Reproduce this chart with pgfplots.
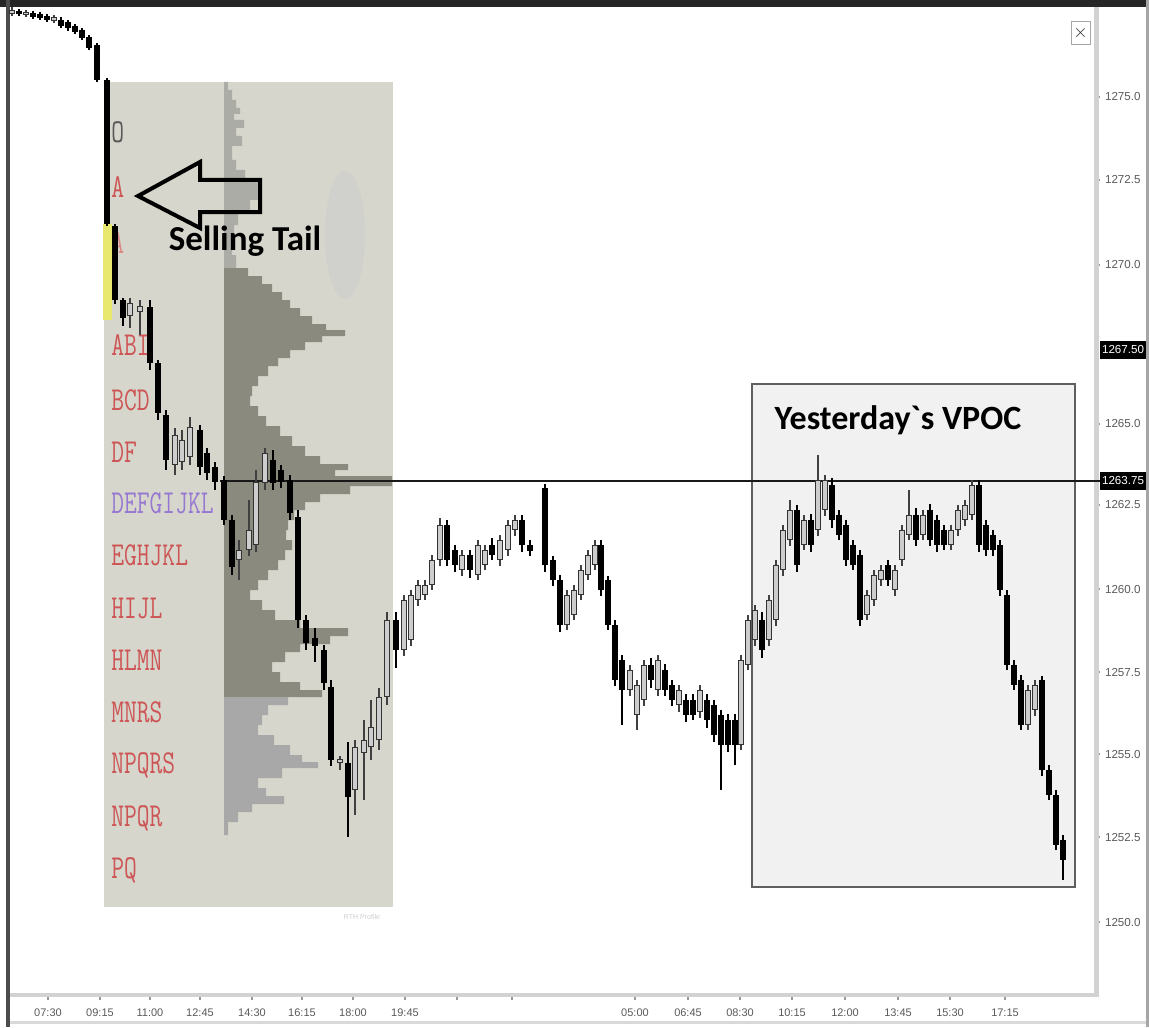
\documentclass[border=0pt]{standalone}
\usepackage{pgfplots}
\pgfplotsset{compat=1.18}
\usepackage{pgfplotstable}
\usepackage{fontspec}
\setmainfont{Liberation Sans}
\newfontfamily\carlito{Carlito}
\definecolor{profbg}{RGB}{214,214,204}
\definecolor{profup}{RGB}{172,172,166}
\definecolor{profdark}{RGB}{138,138,126}
\definecolor{proflow}{RGB}{168,168,168}
\definecolor{tailyellow}{RGB}{232,232,110}
\definecolor{tpored}{RGB}{205,85,85}
\definecolor{tpopurple}{RGB}{150,120,210}
\definecolor{boxfill}{RGB}{241,241,241}
\definecolor{boxline}{RGB}{95,95,95}
\definecolor{candlewhite}{RGB}{205,205,205}
\definecolor{blob}{RGB}{206,206,206}

% candles in chart units (x: time position, y: price position, top = smaller)
\pgfplotstableread{
x h t b l
19 9 11 14 16
33 11 13 17 19
40 12 14 18 20
47 14 16 20 22
61 17 20 26 28
68 20 22 28 31
75 24 26 32 34
82 28 30 38 40
89 35 37 48 50
97 43 45 80 82
107 78 80 224 226
115 224 226 300 304
123 298 300 318 326
150 300 307 363 370
158 360 363 413 420
166 410 415 460 470
200 425 430 467 475
207 448 453 473 480
215 462 467 482 490
224 476 480 520 525
232 515 520 567 575
273 450 460 483 490
281 465 470 482 488
290 475 480 513 520
298 510 517 620 628
306 615 620 643 650
315 628 638 646 662
324 645 650 683 690
331 680 687 760 766
348 742 763 797 837
396 612 620 650 668
447 520 525 560 566
455 545 550 565 572
470 550 555 570 578
492 538 545 555 560
522 515 520 545 552
530 540 545 551 556
545 484 488 565 572
553 556 560 580 586
560 575 580 625 632
601 540 545 590 596
608 576 580 625 630
615 620 625 680 686
622 655 660 690 725
651 658 665 680 688
665 664 670 690 696
672 680 685 700 706
686 694 700 715 722
693 694 700 715 720
707 694 700 720 728
714 700 705 735 742
721 710 715 745 790
728 714 720 745 752
735 714 720 745 765
762 612 620 650 658
797 505 510 565 572
811 514 520 545 552
832 478 485 520 528
839 510 515 535 540
846 520 525 560 566
853 540 545 565 570
860 550 555 620 626
888 560 565 580 586
916 508 515 540 546
930 504 510 540 546
937 515 520 545 552
944 525 530 545 550
979 480 485 545 552
986 520 525 550 556
993 530 535 550 556
1000 540 545 590 596
1007 590 595 665 670
1014 660 665 685 690
1021 675 680 725 730
1042 676 680 770 776
1049 765 770 795 800
1056 790 795 845 850
1063 835 840 860 880
}\blackcandles

\pgfplotstableread{
x h t b l
12 7 10 14 16
26 10 12 15 17
54 15 17 21 23
130 298 303 316 328
140 300 306 312 335
175 428 435 465 475
182 430 440 462 470
190 417 427 457 465
239 540 550 560 580
249 500 530 550 556
256 470 482 545 552
265 448 453 483 490
340 756 759 763 770
355 740 747 790 815
364 720 740 753 800
371 700 727 747 760
379 688 697 740 750
387 612 620 697 705
404 595 600 650 656
411 590 595 640 646
418 580 585 600 606
425 580 585 595 600
432 555 560 585 590
440 518 525 560 566
462 550 555 570 576
478 540 545 575 580
485 545 550 565 570
500 535 540 560 566
508 520 525 550 556
515 515 520 530 536
567 590 595 625 630
574 585 590 615 620
581 565 570 595 600
588 550 555 575 580
595 540 545 565 570
630 665 670 690 696
637 680 685 715 730
644 660 665 700 706
658 655 660 690 696
679 685 690 705 712
700 685 690 712 718
741 655 660 745 750
748 615 620 665 670
755 605 610 640 646
769 595 600 640 646
776 560 565 620 626
783 525 530 570 576
790 500 510 540 546
804 515 520 545 550
818 455 480 530 536
825 475 480 510 516
867 590 595 615 620
874 570 575 600 606
881 565 570 580 586
895 565 570 590 596
902 525 530 560 566
909 490 515 535 540
923 510 515 535 540
951 525 530 545 550
958 505 510 530 536
965 500 505 520 526
972 480 485 515 520
1028 685 690 725 730
1035 680 685 710 716
}\whitecandles

\pgfplotsset{
  candle/.style 2 args={draw=none, mark=none, forget plot,
    error bars/.cd, y dir=plus, y explicit,
    error mark options={mark size=0pt, opacity=0},
    error bar style={draw=#2, line width=#1}},
}

\begin{document}
\begin{tikzpicture}
\begin{axis}[
  x=0.5pt, y=0.5pt, y dir=reverse,
  xmin=10, xmax=1095, ymin=8, ymax=995,
  clip=false,
  axis line style={draw=none},
  xtick={48,100,150,200,252,302,353,405,457,512,635,688,740,792,845,898,950,1005},
  xticklabels={07:30,09:15,11:00,12:45,14:30,16:15,18:00,19:45,,,05:00,06:45,08:30,10:15,12:00,13:45,15:30,17:15},
  ytick={97,180,265,424,505,589,672,754,837,922},
  yticklabels={1275.0,1272.5,1270.0,1265.0,1262.5,1260.0,1257.5,1255.0,1252.5,1250.0},
  xtick pos=left, ytick pos=right, yticklabel pos=right,
  tick align=outside,
  major tick length=2.5pt,
  tick style={gray!80, line width=0.6pt},
  xticklabel style={font=\fontsize{5.5}{6}\selectfont, text=black!65, yshift=-1pt},
  yticklabel style={font=\fontsize{5.8}{6}\selectfont, text=black!65, xshift=-1pt},
]
% frame decorations
\fill[black!85] (axis cs:0,0) rectangle (axis cs:1149,7);
\fill[black!70] (axis cs:6,0) rectangle (axis cs:10,1027);
\fill[gray!35] (axis cs:1094,7) rectangle (axis cs:1099,997);
\fill[gray!35] (axis cs:10,993) rectangle (axis cs:1099,997);
\fill[gray!30] (axis cs:10,1021) rectangle (axis cs:1149,1024);
\fill[gray!70] (axis cs:1146,0) rectangle (axis cs:1149,1027);
\draw[gray!70, fill=white, line width=0.5pt] (axis cs:1071,22) rectangle (axis cs:1090,45);
\node[font=\fontsize{9}{9}\selectfont, text=black!80] at (axis cs:1080.5,33.5) {$\times$};

% market profile background
\fill[profbg] (axis cs:104,82) rectangle (axis cs:393,907);
\fill[blob, opacity=0.7] (axis cs:345,235) ellipse (10pt and 32pt);

% volume profile
\addplot[fill=profup, draw=none, forget plot] coordinates {
(224,82) (228,82) (228,90) (232,90) (232,100) (236,100) (236,108) (240,108) (240,114) (234,114) (234,120) (244,120) (244,128) (236,128) (236,136) (242,136) (242,146) (232,146) (232,160) (236,160) (236,170) (245,170) (245,180) (258,180) (258,200) (250,200) (250,212) (238,212) (238,225) (234,225) (234,240) (232,240) (232,255) (236,255) (236,268) (224,268)};
\addplot[fill=profdark, draw=none, forget plot] coordinates {
(224,268) (248,268) (248,276) (262,276) (262,284) (272,284) (272,292) (282,292) (282,300) (290,300) (290,308) (300,308) (300,316) (312,316) (312,324) (326,324) (326,330) (345,330) (345,336) (322,336) (322,342) (305,342) (305,350) (290,350) (290,358) (278,358) (278,366) (268,366) (268,376) (258,376) (258,386) (252,386) (252,396) (250,396) (250,406) (258,406) (258,416) (266,416) (266,426) (280,426) (280,436) (292,436) (292,446) (305,446) (305,456) (320,456) (320,464) (348,464) (348,470) (335,470) (335,476) (392,476) (392,486) (350,486) (350,494) (320,494) (320,502) (305,502) (305,510) (294,510) (294,520) (288,520) (288,530) (286,530) (286,540) (292,540) (292,550) (285,550) (285,560) (278,560) (278,570) (268,570) (268,580) (258,580) (258,590) (250,590) (250,600) (262,600) (262,610) (275,610) (275,620) (300,620) (300,628) (348,628) (348,636) (330,636) (330,644) (300,644) (300,652) (285,652) (285,662) (272,662) (272,672) (280,672) (280,682) (300,682) (300,690) (322,690) (322,697) (224,697)};
\addplot[fill=proflow, draw=none, forget plot] coordinates {
(224,697) (288,697) (288,705) (268,705) (268,715) (262,715) (262,725) (258,725) (258,735) (274,735) (274,745) (290,745) (290,755) (302,755) (302,762) (318,762) (318,768) (282,768) (282,778) (258,778) (258,788) (266,788) (266,796) (284,796) (284,804) (252,804) (252,812) (238,812) (238,822) (228,822) (228,835) (224,835)};

% selling tail highlight
\fill[tailyellow] (axis cs:103,224) rectangle (axis cs:112,320);

% TPO letters
\begin{scope}[every node/.style={anchor=west, inner sep=0pt, yscale=1.35, font=\ttfamily\addfontfeatures{FakeBold=1.2}\fontsize{12.4}{12.4}\selectfont}]
\node[text=black!65] at (axis cs:111,132) {O};
\node[text=tpored] at (axis cs:111,187) {A};
\node[text=tpored!70] at (axis cs:111,243) {A};
\node[text=tpored] at (axis cs:111,345) {ABI};
\node[text=tpored] at (axis cs:111,400) {BCD};
\node[text=tpored] at (axis cs:111,452) {DF};
\node[text=tpopurple] at (axis cs:111,503) {DEFGIJKL};
\node[text=tpored] at (axis cs:111,555) {EGHJKL};
\node[text=tpored] at (axis cs:111,608) {HIJL};
\node[text=tpored] at (axis cs:111,660) {HLMN};
\node[text=tpored] at (axis cs:111,712) {MNRS};
\node[text=tpored] at (axis cs:111,765) {NPQRS};
\node[text=tpored] at (axis cs:111,818) {NPQR};
\node[text=tpored] at (axis cs:111,870) {PQ};
\end{scope}
\node[font=\fontsize{3.5}{4}\selectfont, text=gray!40] at (axis cs:362,917) {RTH Profile};

% yesterday's VPOC box
\draw[boxline, fill=boxfill, line width=0.7pt] (axis cs:752,384) rectangle (axis cs:1075,887);

% VPOC line
\addplot[black!90, line width=1.3pt, forget plot] coordinates {(220,481) (1100,481)};

% candles: wicks
\addplot[candle={0.55pt}{black}] table[x=x, y=h, y error expr=\thisrow{l}-\thisrow{h}] {\blackcandles};
\addplot[candle={0.55pt}{black!75}] table[x=x, y=h, y error expr=\thisrow{l}-\thisrow{h}] {\whitecandles};
% bodies
\addplot[candle={2.7pt}{black}] table[x=x, y=t, y error expr=\thisrow{b}-\thisrow{t}] {\blackcandles};
\addplot[candle={2.7pt}{black!80}] table[x=x, y=t, y error expr=\thisrow{b}-\thisrow{t}] {\whitecandles};
\addplot[candle={1.6pt}{candlewhite}] table[x=x, y expr=\thisrow{t}+1.4, y error expr={max(\thisrow{b}-\thisrow{t}-2.8,0.2)}] {\whitecandles};

% arrow and texts
\draw[black, line width=2pt, line join=miter] (axis cs:138,196) -- (axis cs:200,162) -- (axis cs:200,180) -- (axis cs:260,180) -- (axis cs:260,212) -- (axis cs:200,212) -- (axis cs:200,228) -- cycle;
\node[font=\carlito\bfseries\fontsize{17.5}{18}\selectfont] at (axis cs:245,241) {Selling Tail};
\node[font=\carlito\bfseries\fontsize{17}{18}\selectfont] at (axis cs:898,420) {Yesterday\textasciigrave s VPOC};

% right-hand price boxes
\node[fill=black, text=white, font=\fontsize{5.8}{6}\selectfont, minimum width=23pt, minimum height=9pt, inner sep=0.5pt] at (axis cs:1123,350) {1267.50};
\node[fill=black, text=white, font=\fontsize{5.8}{6}\selectfont, minimum width=23pt, minimum height=9pt, inner sep=0.5pt] at (axis cs:1123,481) {1263.75};

\coordinate (BBtl) at (axis cs:0,0);
\coordinate (BBbr) at (axis cs:1149,1027);
\end{axis}
\pgfresetboundingbox
\path[use as bounding box] (BBtl) rectangle (BBbr);
\end{tikzpicture}
\end{document}
